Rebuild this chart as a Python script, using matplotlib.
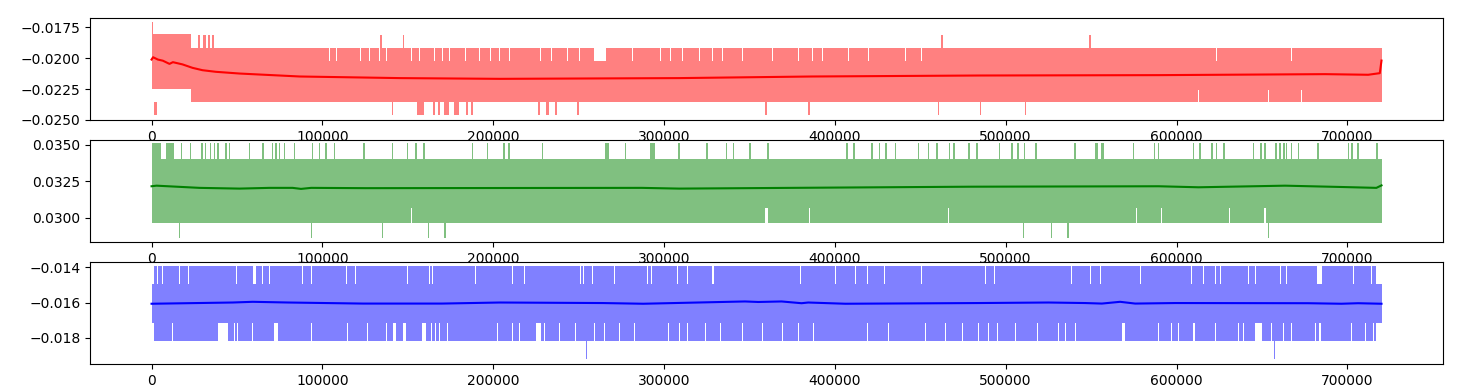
import matplotlib
matplotlib.use("Agg")
import matplotlib.pyplot as plt

N_END = 720000

# ---- red (top) ----
red_base = [(0, 23000, -0.01804, -0.02250), (23000, N_END, -0.01914, -0.02355)]
red_up_tall = [(0, 900)]
red_up_tall_level = -0.01710
red_up = [(27100, 28600), (30000, 31600), (32900, 34300), (35500, 36800),
          (134300, 134300), (147400, 147400), (462600, 462600), (549500, 549500)]
red_up_level = -0.01812
red_down = [(1500, 3200), (141000, 141000), (155600, 159700), (165500, 165500), (168400, 168400),
            (171300, 174300), (177200, 180100), (184800, 184800), (187700, 187700),
            (226900, 226900), (231000, 232800), (236800, 236800), (249700, 249700),
            (359700, 359700), (384800, 384800), (460800, 460800), (485200, 485200), (511500, 511500)]
red_down_level = -0.02458
red_top_notch = [(104100, 104100), (108000, 108000), (122600, 122600), (127500, 127500), (133300, 133300),
                 (137300, 137300), (151900, 151900), (156700, 156700), (165500, 165500), (170400, 170400),
                 (174300, 174300), (184000, 184000), (191800, 191800), (198700, 198700), (203500, 203500),
                 (209800, 209800), (227900, 227900), (233900, 233900), (243500, 243500), (250300, 250300),
                 (259100, 265900), (281500, 281500), (298100, 298100), (303900, 303900), (310700, 310700),
                 (320500, 320500), (328300, 328300), (334100, 334100), (345800, 345800), (363400, 363400),
                 (379000, 379000), (386700, 386700), (392500, 392500), (408200, 408200), (419900, 419900),
                 (441300, 441300), (451000, 451000), (623400, 623400), (667300, 667300)]
red_top_notch_level = -0.02019
red_bot_notch = [(612900, 612900), (653800, 653800), (673100, 673100)]
red_bot_notch_level = -0.02260
red_sx = [0, 900, 3700, 6600, 10500, 12500, 18100, 24000, 29800, 37600, 51500, 63200, 86800,
          145300, 203800, 308800, 386600, 484200, 589500, 687000, 712200, 719000, 720000]
red_sy = [-0.02011, -0.01992, -0.02011, -0.02020, -0.02046, -0.02032, -0.02050, -0.02078, -0.02097,
          -0.02110, -0.02124, -0.02132, -0.02148, -0.02161, -0.02167, -0.02161, -0.02148, -0.02140,
          -0.02137, -0.02129, -0.02134, -0.02121, -0.02019]

# ---- green (middle) ----
green_base = [(0, N_END, 0.03402, 0.02968)]
green_up = [(0, 5700), (8600, 12900), (17400, 17400), (22800, 22800), (29600, 29600), (31600, 31600),
            (34500, 34500), (36800, 36800), (38800, 38800), (43700, 43700), (45600, 45600), (57300, 57300),
            (64700, 66100), (70900, 70900), (72900, 72900), (74900, 74900), (77800, 77800), (83600, 83600),
            (94300, 94300), (98300, 98300), (102200, 102200), (107000, 107000), (124500, 124500),
            (141100, 141100), (149800, 149800), (154700, 154700), (159600, 159600), (187900, 187900),
            (196600, 196600), (206400, 206400), (209300, 209300), (228800, 228800), (265700, 267700),
            (277400, 277400), (291700, 294800), (308800, 308800), (325300, 325300), (336700, 336700),
            (340600, 340600), (350400, 350400), (360900, 360900), (406300, 407800), (411100, 411100),
            (421900, 421900), (426100, 426100), (430000, 430000), (435500, 435500), (449100, 449100),
            (454900, 454900), (459800, 459800), (467000, 467000), (469600, 469600), (478400, 478400),
            (483300, 483300), (496300, 496300), (503700, 503700), (507200, 507200), (510900, 510900),
            (517700, 517700), (539800, 541100), (552500, 554000), (556000, 557400), (574900, 574900),
            (586600, 587500), (589500, 589500), (609900, 609900), (613800, 613800), (620200, 621500),
            (623500, 623500), (627800, 627800), (645000, 645000), (649500, 649500), (651800, 651800),
            (658300, 658300), (660600, 660600), (662800, 662800), (664500, 664500), (667400, 667400),
            (671400, 671400), (682700, 682700), (700600, 700600), (702600, 702600), (706100, 706100),
            (717500, 717500)]
green_up_level = 0.03512
green_down = [(16400, 16400), (93700, 93700), (135300, 135300), (162200, 162200), (171900, 171900),
              (510500, 510500), (526700, 526700), (536500, 536500), (653800, 653800)]
green_down_level = 0.02865
green_bot_notch = [(152100, 152100), (359300, 360800), (385400, 385400), (466700, 466700),
                   (576800, 576800), (591000, 591000), (630800, 630800), (651800, 651800)]
green_bot_notch_level = 0.03065
green_sx = [0, 2900, 28100, 51500, 69000, 82600, 87500, 93400, 125500, 287000, 308800, 400400,
            480000, 589500, 612900, 663600, 696500, 717000, 720000]
green_sy = [0.03216, 0.03220, 0.03205, 0.03200, 0.03205, 0.03205, 0.03198, 0.03205, 0.03203, 0.03205,
            0.03200, 0.03207, 0.03213, 0.03216, 0.03209, 0.03220, 0.03211, 0.03205, 0.03222]

# ---- blue (bottom) ----
blue_base = [(0, N_END, -0.01391, -0.01819)]
blue_down = [(254600, 254600), (657300, 657300)]
blue_down_level = -0.01921
blue_top_notch = [(0, 1200), (3300, 3300), (6600, 6600), (16400, 16400), (21800, 21800), (49500, 49500),
                  (59600, 61200), (65100, 65100), (69000, 69000), (88100, 88100), (93400, 93400),
                  (113900, 113900), (119300, 119300), (149900, 149900), (162600, 162600), (164500, 164500),
                  (189900, 189900), (211300, 211300), (218100, 218100), (251300, 251300), (252600, 252600),
                  (258100, 258100), (270800, 270800), (290200, 290200), (292800, 292800), (307800, 307800),
                  (313600, 313600), (328300, 329200), (379900, 379900), (400400, 400400), (412100, 412100),
                  (418900, 418900), (429200, 429200), (451000, 451000), (488100, 488100), (493600, 493600),
                  (538800, 538800), (549500, 549500), (555400, 555400), (578800, 578800), (609000, 609000),
                  (615800, 615800), (622600, 622600), (625600, 625600), (642100, 642100), (646000, 646000),
                  (660700, 660700), (664500, 664500), (682000, 685000), (703500, 703500), (714200, 714200),
                  (716500, 720000)]
blue_top_notch_level = -0.01497
blue_bot_notch = [(0, 1200), (12500, 12500), (38800, 44600), (48500, 48500), (50500, 50500), (59200, 59200),
                  (71900, 73900), (93400, 93400), (114800, 114800), (126500, 126500), (137300, 137300),
                  (141100, 143100), (147000, 149000), (158600, 160600), (163600, 163600), (166500, 166500),
                  (168400, 168400), (173300, 173300), (202500, 202500), (211300, 211300), (215200, 215200),
                  (225000, 227900), (229800, 229800), (238600, 238600), (248400, 248400), (259100, 259100),
                  (264900, 264900), (273700, 273700), (282500, 282500), (302900, 302900), (308800, 308800),
                  (313600, 313600), (324400, 324400), (333200, 333200), (345800, 345800), (357500, 357500),
                  (369200, 369200), (379000, 379000), (387700, 387700), (418900, 418900), (431600, 431600),
                  (453000, 453000), (464700, 464700), (474500, 474500), (484200, 484200), (490100, 490100),
                  (495000, 495000), (505700, 505700), (518400, 518400), (531000, 531000), (534900, 534900),
                  (540800, 540800), (568000, 570000), (589500, 589500), (597300, 597300), (601200, 601200),
                  (609500, 610800), (622600, 622600), (636200, 636200), (639100, 639100), (645900, 649800),
                  (655800, 655800), (662600, 662600), (667500, 667500), (681100, 681100), (684000, 684000),
                  (702600, 702600), (710400, 710400), (715200, 715200), (716500, 720000)]
blue_bot_notch_level = -0.01718
blue_sx = [0, 47500, 59200, 80000, 123600, 170000, 203800, 264000, 287800, 347400, 355200, 368800,
           380500, 384400, 406200, 484200, 525100, 546500, 556300, 567000, 575800, 599200, 677100,
           696500, 706300, 720000]
blue_sy = [-0.01607, -0.01600, -0.01596, -0.01600, -0.01606, -0.01606, -0.01600, -0.01603, -0.01607,
           -0.01594, -0.01597, -0.01594, -0.01604, -0.01600, -0.01607, -0.01603, -0.01600, -0.01603,
           -0.01606, -0.01596, -0.01606, -0.01603, -0.01604, -0.01607, -0.01604, -0.01607]


def bars(ax, spans, lo, hi, color, minw):
    for x0, x1 in spans:
        w = max(x1 - x0, minw)
        c = (x0 + x1) / 2.0
        ax.bar(c, hi - lo, bottom=lo, width=w, color=color, linewidth=0, align='center')


def panel(ax, base, light, dark, sx, sy, ylim, up=(), down=(), top_notch=(), bot_notch=()):
    for x0, x1, hi, lo in base:
        ax.fill_between([x0, x1], [lo, lo], [hi, hi], color=light, linewidth=0)
    hi0, lo0 = base[-1][2], base[-1][3]
    for spans, level in top_notch:
        bars(ax, spans, level, hi0 + 0.00001, 'white', 600)
    for spans, level in bot_notch:
        bars(ax, spans, lo0 - 0.00001, level, 'white', 600)
    for spans, level in up:
        bars(ax, spans, hi0 - 0.00001, level, light, 900)
    for spans, level in down:
        bars(ax, spans, level, lo0 + 0.00001, light, 900)
    ax.plot(sx, sy, color=dark, linewidth=1.5)
    ax.set_xlim(-36000, 756000)
    ax.set_ylim(*ylim)


fig, axes = plt.subplots(3, 1, figsize=(14.69, 3.92), dpi=100)
fig.subplots_adjust(left=0.0613, right=0.9823, top=0.9533, bottom=0.0714, hspace=0.2)

panel(axes[0], red_base, '#ff8080', 'r', red_sx, red_sy, (-0.0250, -0.01677),
      up=[(red_up, red_up_level)],
      down=[(red_down, red_down_level)],
      top_notch=[(red_top_notch, red_top_notch_level)],
      bot_notch=[(red_bot_notch, red_bot_notch_level)])
bars(axes[0], red_up_tall, -0.01804, red_up_tall_level, '#ff8080', 900)
axes[0].set_yticks([-0.0250, -0.0225, -0.0200, -0.0175])

panel(axes[1], green_base, '#80c080', 'g', green_sx, green_sy, (0.02835, 0.03530),
      up=[(green_up, green_up_level)],
      down=[(green_down, green_down_level)],
      bot_notch=[(green_bot_notch, green_bot_notch_level)])
axes[1].set_yticks([0.0300, 0.0325, 0.0350])

panel(axes[2], blue_base, '#8080ff', 'b', blue_sx, blue_sy, (-0.01949, -0.01372),
      down=[(blue_down, blue_down_level)],
      top_notch=[(blue_top_notch, blue_top_notch_level)],
      bot_notch=[(blue_bot_notch, blue_bot_notch_level)])
axes[2].set_yticks([-0.018, -0.016, -0.014])

plt.savefig('out.png')
